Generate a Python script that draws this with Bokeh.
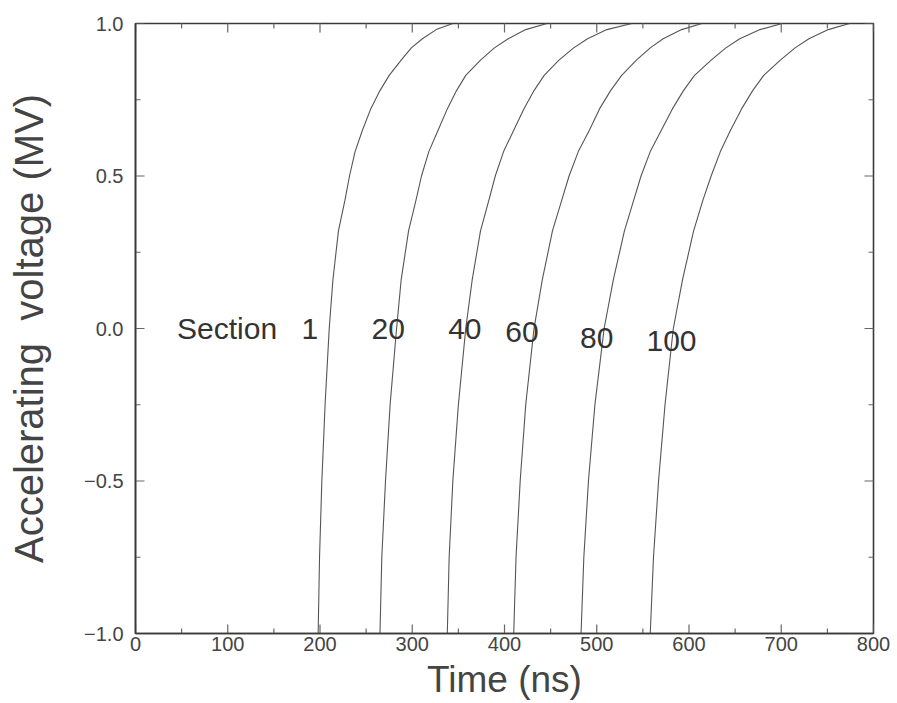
import math
from bokeh.plotting import figure
from bokeh.models import Range1d, FixedTicker
from bokeh.core.properties import value
from bokeh.embed import file_html
from bokeh.resources import INLINE

# Voltage levels (MV) at which the times were read
voltage = [-1.0, -0.75, -0.5, -0.25, 0.0, 0.16, 0.32, 0.42, 0.5, 0.58, 0.65,
           0.72, 0.78, 0.83, 0.88, 0.92, 0.95, 0.98, 1.0]

# Time (ns) of each section's waveform at those voltage levels
t_sec1 = [198, 199.5, 202, 205.5, 210, 214, 220, 227, 232, 238, 246,
          255, 265, 275, 288, 299, 311, 326, 344]
t_sec20 = [265, 267, 271, 276, 283, 288, 296, 304, 310, 318, 328,
           338, 348, 358, 374, 389, 404, 423, 446]
t_sec40 = [338, 340, 344, 350, 358, 365, 374, 383, 390, 399, 410,
           421, 432, 443, 459, 475, 490, 511, 538]
t_sec60 = [410, 412.5, 417, 423, 432, 441, 452, 462, 470, 480, 492,
           503, 515, 527, 543, 558, 572, 592, 614]
t_sec80 = [483, 486, 491, 498, 508, 518, 530, 540, 548, 558, 570,
           582, 594, 606, 624, 640, 655, 677, 701]
t_sec100 = [558, 561.5, 567, 574, 583, 593, 605, 615, 624, 634, 645,
            657, 669, 681, 699, 715, 730, 751, 774]

# Curve labels
label_text = ["Section", "1", "20", "40", "60", "80", "100"]
label_x = [45, 189, 274, 357, 419, 500, 581]
label_y = [0.0, 0.0, 0.0, 0.0, -0.01, -0.03, -0.04]

x_ticks = [0, 100, 200, 300, 400, 500, 600, 700, 800]
x_minor = [50, 150, 250, 350, 450, 550, 650, 750]
y_ticks = [-1.0, -0.5, 0.0, 0.5, 1.0]
y_minor = [-0.75, -0.25, 0.25, 0.75]
y_tick_labels = ["\u22121.0", "\u22120.5", "0.0", "0.5", "1.0"]

FONT = "Liberation Sans"
AXC = "#3a3a3a"
TXT = "#333333"
TICKC = "#666666"

X0, X1 = 0, 800
Y0, Y1 = -1.0, 1.0

p = figure(width=897, height=703, output_backend="svg", toolbar_location=None,
           x_range=Range1d(X0, X1), y_range=Range1d(Y0, Y1),
           min_border_left=135, min_border_right=24, min_border_top=23,
           min_border_bottom=70)
p.background_fill_color = "white"
p.border_fill_color = "white"
p.grid.visible = False
p.outline_line_color = AXC
p.outline_line_width = 1.6

for ts in [t_sec1, t_sec20, t_sec40, t_sec60, t_sec80, t_sec100]:
    p.line(ts, voltage, line_color="#555555", line_width=1.1)

p.text(x=label_x[:1], y=label_y[:1], text=label_text[:1],
       text_font=value(FONT), text_font_size="30px", text_color=TXT,
       text_align="left", text_baseline="middle")
p.text(x=label_x[1:], y=label_y[1:], text=label_text[1:],
       text_font=value(FONT), text_font_size="30px", text_color=TXT,
       text_align="center", text_baseline="middle")

# Inward tick marks on all four sides (dash markers clipped by the frame)
def ticks_h(xs, y, size):
    p.scatter(xs, [y] * len(xs), marker="dash", angle=math.pi / 2, size=size,
              line_color=TICKC, line_width=1.2)

def ticks_v(ys, x, size):
    p.scatter([x] * len(ys), ys, marker="dash", size=size,
              line_color=TICKC, line_width=1.2)

ticks_h(x_ticks, Y0, 18)
ticks_h(x_ticks, Y1, 18)
ticks_h(x_minor, Y0, 10)
ticks_h(x_minor, Y1, 10)
ticks_v(y_ticks, X0, 18)
ticks_v(y_ticks, X1, 18)
ticks_v(y_minor, X0, 10)
ticks_v(y_minor, X1, 10)

def style(ax):
    ax.axis_line_color = AXC
    ax.axis_line_width = 1.6
    ax.major_tick_in = 0
    ax.major_tick_out = 0
    ax.minor_tick_in = 0
    ax.minor_tick_out = 0
    ax.major_label_text_font = FONT
    ax.major_label_text_font_size = "20px"
    ax.major_label_text_color = "#444444"
    ax.axis_label_text_font = FONT
    ax.axis_label_text_font_style = "normal"
    ax.axis_label_text_color = "#444444"

xa = p.xaxis[0]
xa.ticker = FixedTicker(ticks=x_ticks)
xa.axis_label = "Time (ns)"
style(xa)
xa.major_label_standoff = 3
xa.axis_label_standoff = 5
xa.axis_label_text_font_size = "37px"
xa.axis_label_text_line_height = 0.8

ya = p.yaxis[0]
ya.ticker = FixedTicker(ticks=y_ticks)
ya.major_label_overrides = {v: s for v, s in zip(y_ticks, y_tick_labels)}
ya.axis_label = "Accelerating\u00a0\u00a0voltage (MV)"
style(ya)
ya.major_label_standoff = 12
ya.axis_label_standoff = 30
ya.axis_label_text_font_size = "40px"

open("out.html", "w").write(file_html(p, INLINE))
